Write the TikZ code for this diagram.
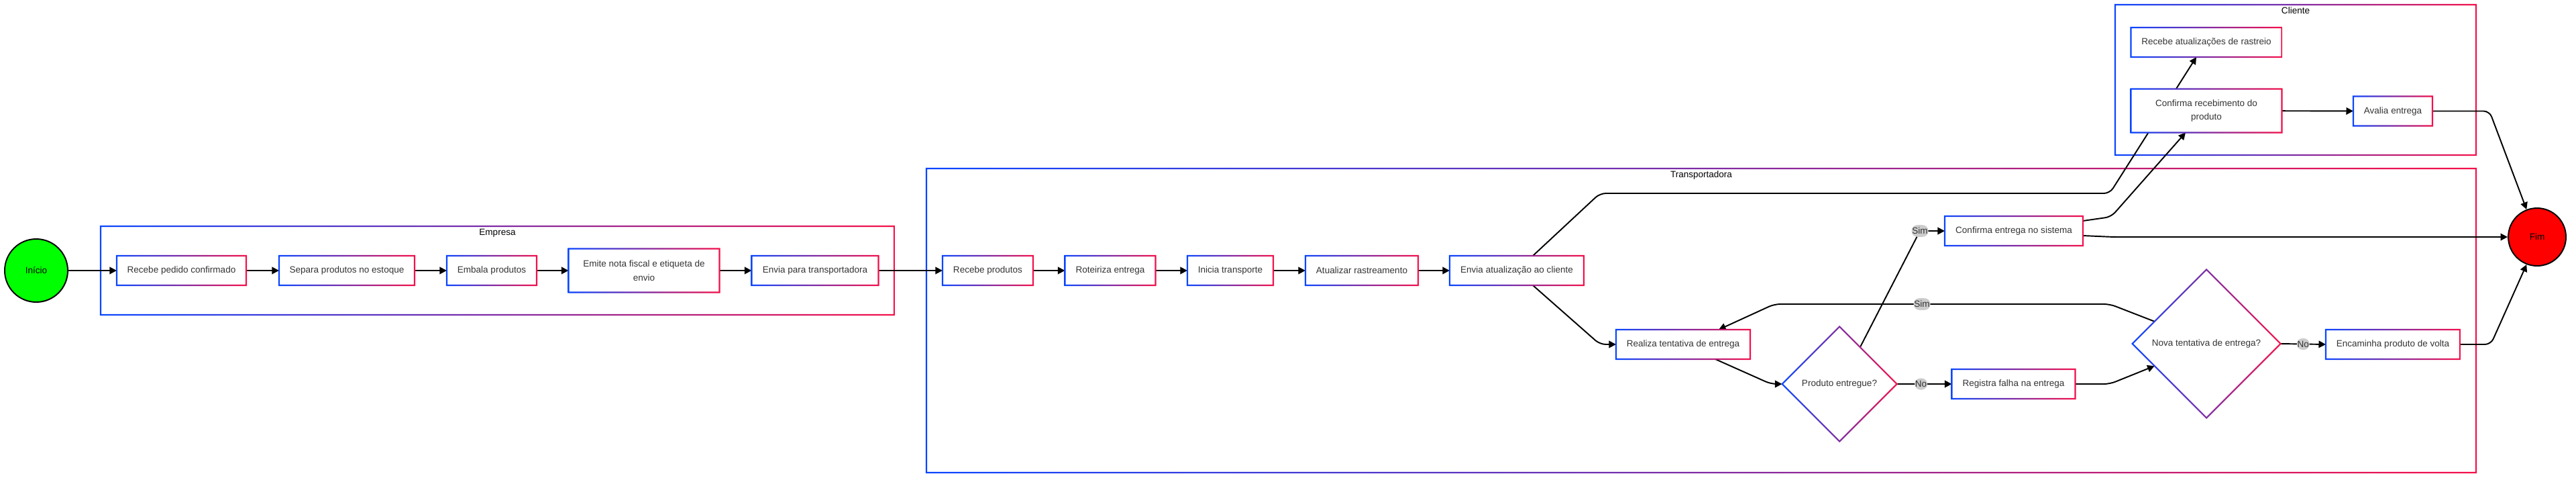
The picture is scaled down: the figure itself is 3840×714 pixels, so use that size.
\documentclass[tikz,border=0pt]{standalone}
\usepackage{fontspec}
\setmainfont{Liberation Sans}
\usetikzlibrary{shapes.geometric,arrows.meta,positioning,calc,backgrounds,shadows}
\definecolor{gblue}{HTML}{0A46FF}
\definecolor{gred}{HTML}{F5104A}
\definecolor{txt}{HTML}{333333}
\definecolor{lblgray}{HTML}{CCCCCC}
\definecolor{startgreen}{HTML}{00FF00}
\definecolor{endred}{HTML}{FF0000}

\begin{document}
\begin{tikzpicture}[x=0.02cm,y=-0.02cm,font=\fontsize{7.7}{11.8}\selectfont,
  stepbox/.style 2 args={fill=white,text=txt,align=center,inner sep=1pt,outer sep=0pt,
    minimum width=#1*0.02cm,minimum height=#2*0.02cm,
    drop shadow={shadow xshift=0.8pt,shadow yshift=-0.8pt,opacity=0.12}},
  decision/.style={diamond,aspect=1,fill=white,text=txt,inner sep=0pt,outer sep=0pt,
    minimum width=#1*0.02cm,minimum height=#1*0.02cm,
    drop shadow={shadow xshift=0.8pt,shadow yshift=-0.8pt,opacity=0.12}},
  term/.style={circle,draw=black,line width=1.1pt,inner sep=0pt,minimum size=#1*0.02cm,
    drop shadow={shadow xshift=0.8pt,shadow yshift=-0.8pt,opacity=0.12}},
  lane/.style 2 args={inner sep=0pt,outer sep=0pt,minimum width=#1*0.02cm,minimum height=#2*0.02cm},
  lanelbl/.style={inner sep=1pt,text=black},
  flow/.style={-{Triangle[length=6pt,width=6pt]},line width=1.1pt,rounded corners=5pt},
  yn/.style={fill=lblgray,text=txt,inner xsep=0.5pt,inner ysep=2.2pt},
  grad/.style={left color=gblue,right color=gred,even odd rule}]
\useasboundingbox (0,0) rectangle (3840,714);

\node[term=94,fill=startgreen] (inicio) at (54,403) {Início};
\node[term=86,fill=endred] (fim) at (3782,353) {Fim};

\foreach \n/\x/\w/\h/\t in {recped/270.5/193/44/Recebe pedido confirmado,
  separa/517/202/44/Separa produtos no estoque, embala/733/134/44/Embala produtos,
  emite/960/225/65/{Emite nota fiscal e etiqueta de\\envio},
  enviatr/1215/189/44/Envia para transportadora, recprod/1472.5/135/44/Recebe produtos,
  roteiriza/1655/135/44/Roteiriza entrega, inicia/1834/128/44/Inicia transporte,
  atualiza/2030/168/44/Atualizar rastreamento, enviaatu/2261/200/44/Envia atualização ao cliente}
  \node[stepbox={\w}{\h}] (\n) at (\x,403) {\t};

\node[stepbox={200}{44}] (realiza) at (2509,513) {Realiza tentativa de entrega};
\node[decision=171] (entregue) at (2742,572) {Produto entregue?};
\node[stepbox={206}{44}] (confsis) at (3002,344) {Confirma entrega no sistema};
\node[stepbox={184}{44}] (registra) at (3001.5,572) {Registra falha na entrega};
\node[decision=221] (nova) at (3289,512) {Nova tentativa de entrega?};
\node[stepbox={200}{44}] (encaminha) at (3567,513) {Encaminha produto de volta};
\node[stepbox={225}{44}] (recatu) at (3289,63) {Recebe atualizações de rastreio};
\node[stepbox={225}{65}] (confrec) at (3289,165) {Confirma recebimento do\\produto};
\node[stepbox={118}{44}] (avalia) at (3567,165.5) {Avalia entrega};

\foreach \n in {recped,separa,embala,emite,enviatr,recprod,roteiriza,inicia,atualiza,enviaatu,
  realiza,confsis,registra,encaminha,recatu,confrec,avalia}
  \shade[grad] ($(\n.south west)+(-0.6pt,-0.6pt)$) rectangle ($(\n.north east)+(0.6pt,0.6pt)$)
    ($(\n.south west)+(0.6pt,0.6pt)$) rectangle ($(\n.north east)+(-0.6pt,-0.6pt)$);
\foreach \n in {entregue,nova}
  \shade[grad] ($(\n.west)+(-0.85pt,0pt)$) -- ($(\n.north)+(0pt,0.85pt)$) -- ($(\n.east)+(0.85pt,0pt)$) -- ($(\n.south)+(0pt,-0.85pt)$) -- cycle
    ($(\n.west)+(0.85pt,0pt)$) -- ($(\n.north)+(0pt,-0.85pt)$) -- ($(\n.east)+(-0.85pt,0pt)$) -- ($(\n.south)+(0pt,0.85pt)$) -- cycle;

\begin{scope}[on background layer]
\node[lane={1183}{132}] (empresa) at (741.5,403) {};
\node[lane={2310}{453}] (transp) at (2536,477.5) {};
\node[lane={538}{224}] (cliente) at (3422,119) {};
\foreach \n in {empresa,transp,cliente}
  \shade[grad] ($(\n.south west)+(-0.6pt,-0.6pt)$) rectangle ($(\n.north east)+(0.6pt,0.6pt)$)
    ($(\n.south west)+(0.6pt,0.6pt)$) rectangle ($(\n.north east)+(-0.6pt,-0.6pt)$);
\node[lanelbl,below=1pt of empresa.north] (empresalbl) {Empresa};
\node[lanelbl,below=1pt of transp.north] (transplbl) {Transportadora};
\node[lanelbl,below=1pt of cliente.north] (clientelbl) {Cliente};

\draw[flow] (inicio) -- (recped);
\foreach \a/\b in {recped/separa,separa/embala,embala/emite,emite/enviatr,enviatr/recprod,
  recprod/roteiriza,roteiriza/inicia,inicia/atualiza,atualiza/enviaatu}
  \draw[flow] (\a) -- (\b);
\draw[flow] ($(enviaatu.north)+(24,0)$) -- (2385,288) -- (3145,288) -- ($(recatu.south)+(-15,0)$);
\draw[flow] ($(enviaatu.south)+(24,0)$) -- (2385,513) -- (realiza.west);
\draw[flow] ($(realiza.south)+(48,0)$) -- (2640,572) -- (entregue.west);
\draw[flow] ($(entregue.north)!0.36!(entregue.east)$) -- (2862,344) node[yn]{Sim} -- (confsis.west);
\draw[flow] (entregue.east) -- node[yn,pos=0.44]{No} (registra.west);
\draw[flow] (registra.east) -- (3145,572) -- ($(nova.west)!0.3!(nova.south)$);
\draw[flow] ($(nova.west)!0.3!(nova.north)$) -- (3145,453) -- node[yn,pos=0.56]{Sim} (2645,453) -- ($(realiza.north)+(53,0)$);
\draw[flow] (nova.east) -- node[yn]{No} (encaminha.west);
\draw[flow] (encaminha.east) -- (3713,513) -- (fim.-111);
\draw[flow] ($(confsis.east)+(0,-15)$) -- (3147,323) -- ($(confrec.south)+(-31,0)$);
\draw[flow] ($(confsis.east)+(0,7)$) -- (3150,353) -- (fim.west);
\draw[flow] (confrec) -- (avalia);
\draw[flow] (avalia.east) -- (3711,165.5) -- (fim.111);
\end{scope}
\end{tikzpicture}
\end{document}
